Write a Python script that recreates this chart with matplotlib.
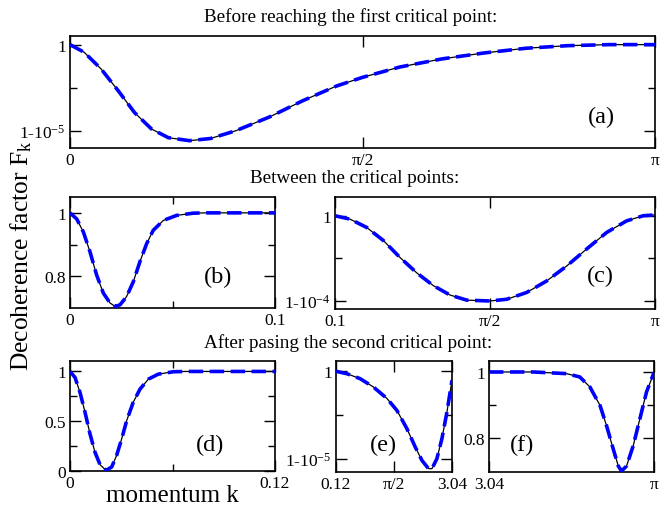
import numpy as np
import matplotlib
matplotlib.use("Agg")
import matplotlib.pyplot as plt

plt.rcParams['font.family'] = ['Liberation Serif', 'DejaVu Serif']
plt.rcParams['mathtext.fontset'] = 'custom'
plt.rcParams['mathtext.rm'] = 'Liberation Serif'
plt.rcParams['mathtext.it'] = 'Liberation Serif:italic'
plt.rcParams['mathtext.default'] = 'regular'

PI = np.pi

# ---------------- data ----------------
# (a) deviation 1-F in units of 1e-5
k_a = [0, 0.076, 0.166, 0.257, 0.347, 0.438, 0.528, 0.641, 0.754, 0.890,
       1.071, 1.251, 1.432, 1.571, 1.771, 1.997, 2.223, 2.449, 2.675, 2.9, PI]
dev_a = [0, 0.089, 0.28, 0.53, 0.79, 0.98, 1.08, 1.115, 1.09, 1.0,
         0.84, 0.65, 0.48, 0.38, 0.26, 0.166, 0.097, 0.042, 0.012, 0.0, 0.0]

# (b) F directly
k_b = [0, 0.00325, 0.0065, 0.00976, 0.013, 0.01626, 0.0195, 0.022, 0.0244,
       0.0276, 0.0309, 0.0341, 0.0374, 0.0406, 0.0455, 0.052, 0.0601, 0.0667, 0.1]
F_b = [1.0, 0.981, 0.940, 0.877, 0.804, 0.747, 0.716, 0.705, 0.71,
       0.736, 0.783, 0.846, 0.903, 0.945, 0.976, 0.992, 0.999, 1.0, 1.0]

# (c) deviation 1-F in units of 1e-4
k_c = [0.1, 0.243, 0.401, 0.559, 0.718, 0.877, 1.035, 1.193, 1.352, 1.571,
       1.732, 1.922, 2.112, 2.302, 2.492, 2.682, 2.872, 3.03, PI]
dev_c = [0.0, 0.04, 0.137, 0.29, 0.49, 0.67, 0.82, 0.93, 0.99, 1.0,
         0.98, 0.90, 0.765, 0.59, 0.39, 0.196, 0.06, 0.0, -0.01]

# (d) F directly
k_d = [0, 0.00293, 0.00585, 0.0088, 0.0117, 0.0146, 0.0176, 0.0211, 0.0244,
       0.0273, 0.0302, 0.0332, 0.037, 0.041, 0.0459, 0.0517, 0.0605, 0.068, 0.12]
F_d = [1.0, 0.94, 0.79, 0.59, 0.373, 0.19, 0.063, 0.007, 0.04,
       0.157, 0.32, 0.507, 0.69, 0.823, 0.923, 0.973, 0.997, 1.0, 1.0]

# (e) deviation 1-F in units of 1e-5
k_e = [0.12, 0.39, 0.726, 1.062, 1.4, 1.652, 1.904, 2.114, 2.283, 2.449,
       2.535, 2.66, 2.787, 2.913, 3.04]
dev_e = [0.0, 0.027, 0.084, 0.18, 0.31, 0.447, 0.656, 0.866, 1.02, 1.115,
         1.115, 1.0, 0.77, 0.466, 0.103]

# (f) F directly
k_f = [3.04, 3.0671, 3.0877, 3.0959, 3.1021, 3.1083, 3.1124, 3.1165, 3.1196,
       3.1216, 3.1247, 3.1288, 3.1329, 3.137, PI]
F_f = [1.0, 1.0, 0.995, 0.985, 0.955, 0.9, 0.838, 0.768, 0.717,
       0.702, 0.717, 0.778, 0.859, 0.94, 0.998]

titles = ["Before reaching the first critical point:",
          "Between the critical points:",
          "After pasing the second critical point:"]

F_a = 1 - np.array(dev_a) * 1e-5
F_c = 1 - np.array(dev_c) * 1e-4
F_e = 1 - np.array(dev_e) * 1e-5

# ---------------- figure ----------------
fig = plt.figure(figsize=(6.6, 5.1), dpi=100)
W, H = 660, 510

def mkax(x0, x1, y0, y1):
    return fig.add_axes([x0 / W, 1 - y1 / H, (x1 - x0) / W, (y1 - y0) / H])

axA = mkax(70, 655, 37, 149)
axB = mkax(70, 275, 198, 309)
axC = mkax(335, 655, 198, 310)
axD = mkax(70, 275, 362, 472)
axE = mkax(336, 452, 362, 473)
axF = mkax(489, 654, 362, 473)

TFS = 12.5

def style(ax):
    for s in ax.spines.values():
        s.set_linewidth(1.2)
    ax.tick_params(which='both', direction='in', top=True, right=True,
                   labelsize=TFS, pad=3, width=1.0)
    ax.tick_params(which='major', length=8)
    ax.tick_params(which='minor', length=5)

def draw(ax, k, F):
    ax.plot(k, F, color='black', lw=0.9, zorder=2)
    ax.plot(k, F, color='#0000ff', lw=2.6, dashes=(4, 1.8), zorder=3)

# (a)
draw(axA, k_a, F_a)
axA.set_xlim(0, PI)
axA.set_ylim(1 - 1.2e-5, 1 + 0.1e-5)
axA.set_xticks([0, PI / 2, PI], ["0", "π/2", "π"])
axA.set_yticks([1 - 1e-5, 1], ["1-10$^{-5}$", "1"])
axA.set_yticks([1 - 0.5e-5], minor=True)

# (b)
draw(axB, k_b, F_b)
axB.set_xlim(0, 0.1)
axB.set_ylim(0.70, 1.05)
axB.set_xticks([0, 0.1], ["0", "0.1"])
axB.set_xticks([0.05], minor=True)
axB.set_yticks([0.8, 1.0], ["0.8", "1"])
axB.set_yticks([0.9], minor=True)

# (c)
draw(axC, k_c, F_c)
axC.set_xlim(0.1, PI)
axC.set_ylim(1 - 1.094e-4, 1 + 0.22e-4)
axC.set_xticks([0.1, PI / 2, PI], ["0.1", "π/2", "π"])
axC.set_yticks([1 - 1e-4, 1], ["1-10$^{-4}$", "1"])
axC.set_yticks([1 - 0.5e-4], minor=True)

# (d)
draw(axD, k_d, F_d)
axD.set_xlim(0, 0.12)
axD.set_ylim(0, 1.105)
axD.set_xticks([0, 0.12], ["0", "0.12"])
axD.set_xticks([0.06], minor=True)
axD.set_yticks([0, 0.5, 1], ["0", "0.5", "1"])
axD.set_yticks([0.25, 0.75], minor=True)

# (e)
draw(axE, k_e, F_e)
axE.set_xlim(0.12, 3.04)
axE.set_ylim(1 - 1.153e-5, 1 + 0.118e-5)
axE.set_xticks([0.12, PI / 2, 3.04], ["0.12", "π/2", "3.04"])
axE.set_yticks([1 - 1e-5, 1], ["1-10$^{-5}$", "1"])
axE.set_yticks([1 - 0.5e-5], minor=True)

# (f)
draw(axF, k_f, F_f)
axF.set_xlim(3.04, PI)
axF.set_ylim(0.699, 1.033)
axF.set_xticks([3.04, PI], ["3.04", "π"])
axF.set_yticks([0.8, 1.0], ["0.8", "1"])
axF.set_yticks([0.9], minor=True)

for ax in (axA, axB, axC, axD, axE, axF):
    style(ax)

LFS = 17.5
for ax, lab, (px, py) in [(axA, "(a)", (0.908, 0.286)), (axB, "(b)", (0.722, 0.28)),
                          (axC, "(c)", (0.828, 0.297)), (axD, "(d)", (0.683, 0.245)),
                          (axE, "(e)", (0.405, 0.252)), (axF, "(f)", (0.198, 0.252))]:
    ax.text(px, py, lab, transform=ax.transAxes, fontsize=LFS, ha='center', va='center')

TTFS = 13.8
fig.text(351 / W, 1 - 17 / H, titles[0], fontsize=TTFS, ha='center', va='center')
fig.text(355 / W, 1 - 179 / H, titles[1], fontsize=TTFS, ha='center', va='center')
fig.text(348 / W, 1 - 343 / H, titles[2], fontsize=TTFS, ha='center', va='center')

fig.text(21 / W, 1 - 256 / H, "Decoherence factor F$_{\\rm k}$", fontsize=18.4,
         rotation=90, ha='center', va='center')
fig.text(172 / W, 1 - 496 / H, "momentum k", fontsize=18, ha='center', va='center')

fig.savefig("out.png", dpi=100)
